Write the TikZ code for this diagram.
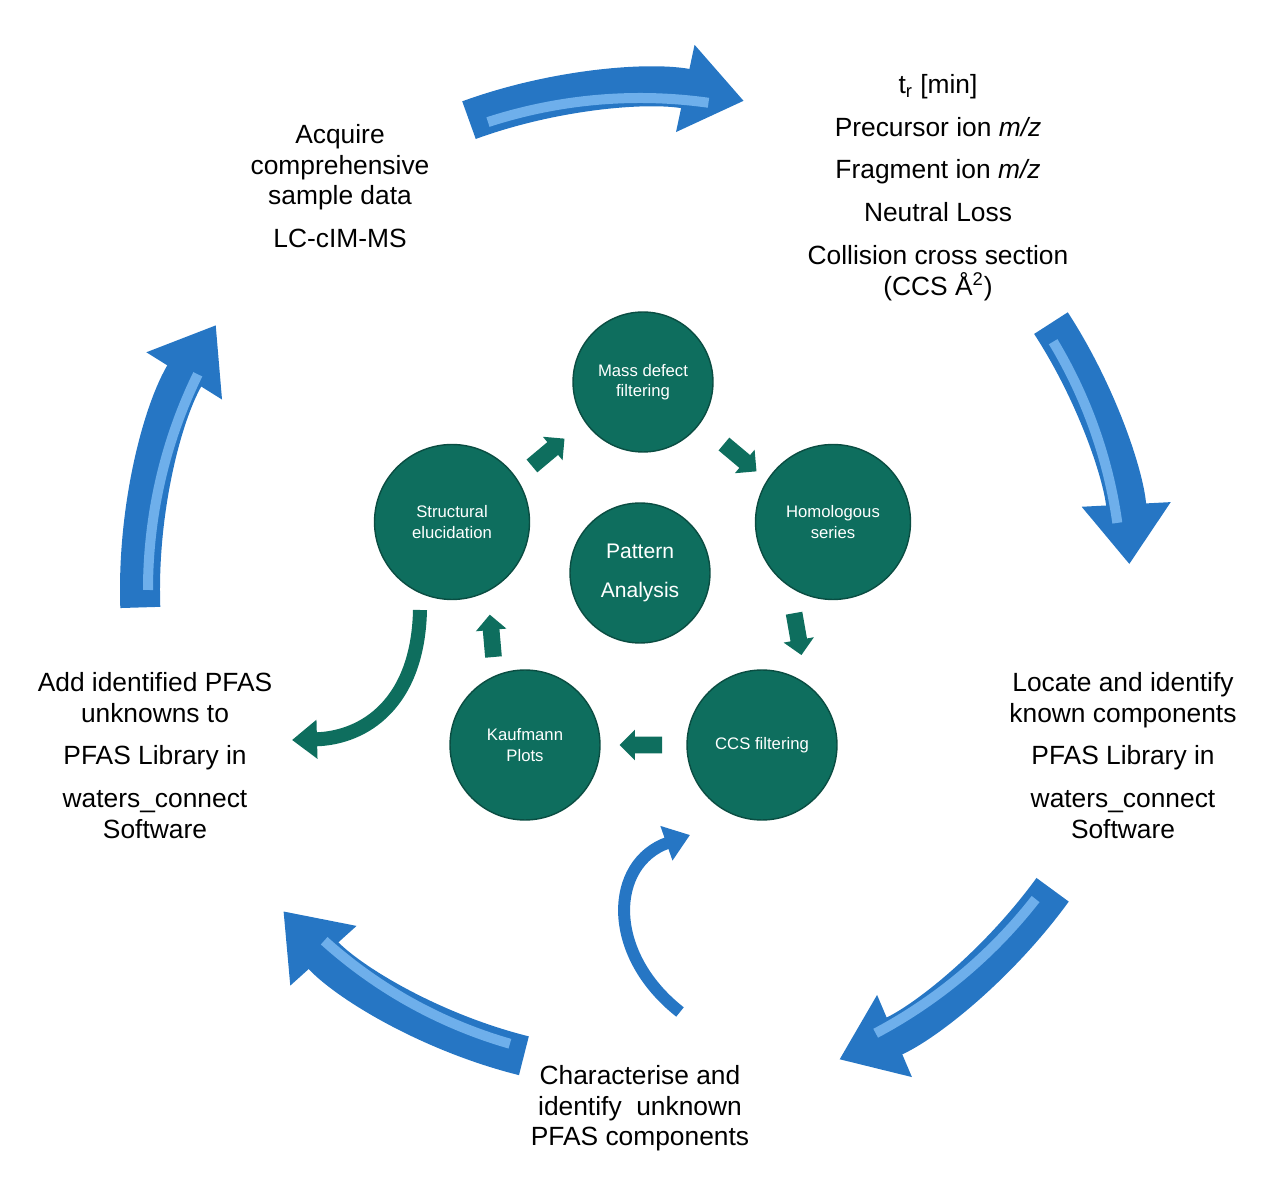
\documentclass[tikz,border=0pt]{standalone}
\usepackage{fontspec}
\setmainfont{Liberation Sans}
\usetikzlibrary{arrows.meta,shapes.arrows}
\definecolor{pfasblue}{RGB}{38,118,196}
\definecolor{pfaslight}{RGB}{110,175,235}
\definecolor{pfasteal}{RGB}{14,110,94}
\tikzset{
  bigarrow/.style={pfasblue, line width=0.8cm, -{Triangle[width=1.7cm, length=1.2cm]}},
  shine/.style={pfaslight, line width=0.2cm},
  stage/.style={circle, fill=pfasteal, draw=pfasteal!70!black, thick, text=white, align=center, font=\fontsize{9.5}{11.5}\selectfont},
  hop/.style={single arrow, fill=pfasteal, minimum height=0.85cm, inner sep=0.16cm, single arrow head extend=0.14cm, single arrow head indent=0pt},
  words/.style={align=center, anchor=north, font=\fontsize{15}{17.5}\selectfont}
}
\begin{document}
\begin{tikzpicture}[x=0.02cm, y=0.02cm]
    \useasboundingbox (0, 0) rectangle (1280, 1183);
    \coordinate (c) at (640, 593);
    % outer cycle
    \draw[bigarrow] ([shift={(110:500)}]c) arc[start angle=110, end angle=78, radius=500];
    \draw[bigarrow] ([shift={(33:490)}]c) arc[start angle=33, end angle=3, radius=490];
    \draw[bigarrow] ([shift={(-36:510)}]c) arc[start angle=-36, end angle=-67, radius=510];
    \draw[bigarrow] ([shift={(-104:480)}]c) arc[start angle=-104, end angle=-138, radius=480];
    \draw[bigarrow] ([shift={(-178:500)}]c) arc[start angle=-178, end angle=-212, radius=500];
    \draw[shine] ([shift={(108:492)}]c) arc[start angle=108, end angle=82, radius=492];
    \draw[shine] ([shift={(31:482)}]c) arc[start angle=31, end angle=8, radius=482];
    \draw[shine] ([shift={(-38:502)}]c) arc[start angle=-38, end angle=-62, radius=502];
    \draw[shine] ([shift={(-106:472)}]c) arc[start angle=-106, end angle=-132, radius=472];
    \draw[shine] ([shift={(-180:492)}]c) arc[start angle=-180, end angle=-206, radius=492];
    % texts
    \node[words] (acquire) at (340, 1065) {Acquire\\comprehensive\\sample data\\[0.24cm]LC-cIM-MS};
    \node[words] (params) at (938, 1115) {t\textsubscript{r} [min]\\[0.24cm]Precursor ion \textit{m/z}\\[0.24cm]Fragment ion \textit{m/z}\\[0.24cm]Neutral Loss\\[0.24cm]Collision cross section\\(CCS Å\textsuperscript{2})};
    \node[words] (locate) at (1123, 517) {Locate and identify\\known components\\[0.24cm]PFAS Library in\\[0.24cm]waters\_connect\\Software};
    \node[words] (charact) at (640, 124) {Characterise and\\identify \ unknown\\PFAS components};
    \node[words] (add) at (155, 517) {Add identified PFAS\\unknowns to\\[0.24cm]PFAS Library in\\[0.24cm]waters\_connect\\Software};
    % inner cycle
    \node[stage, minimum size=2.8cm] (mass) at (643, 801) {Mass defect\\filtering};
    \node[stage, minimum size=3.1cm] (homol) at (833, 661) {Homologous\\series};
    \node[stage, minimum size=3.0cm] (ccs) at (762, 438) {CCS filtering};
    \node[stage, minimum size=3.0cm] (kauf) at (525, 438) {Kaufmann\\Plots};
    \node[stage, minimum size=3.1cm] (struct) at (452, 661) {Structural\\elucidation};
    \node[stage, minimum size=2.8cm, font=\fontsize{12}{14}\selectfont] (pattern) at (640, 610) {Pattern\\[0.3cm]Analysis};
    \node[hop, rotate=40] (h1) at (545, 728) {};
    \node[hop, rotate=-40] (h2) at (737, 728) {};
    \node[hop, rotate=-80] (h3) at (797, 553) {};
    \node[hop, rotate=180] (h4) at (645, 438) {};
    \node[hop, rotate=95] (h5) at (492, 543) {};
    % side arrows
    \coordinate (tealA) at (420, 573);
    \coordinate (tealB) at (292, 443);
    \draw[pfasteal, line width=0.28cm, -{Triangle[width=0.75cm, length=0.5cm]}] (tealA) .. controls (418, 480) and (365, 445) .. (tealB);
    \coordinate (blueA) at (680, 171);
    \coordinate (blueB) at (690, 348);
    \draw[pfasblue, line width=0.24cm, -{Triangle[width=0.7cm, length=0.5cm]}] (blueA) .. controls (605, 230) and (610, 320) .. (blueB);
\end{tikzpicture}
\end{document}
